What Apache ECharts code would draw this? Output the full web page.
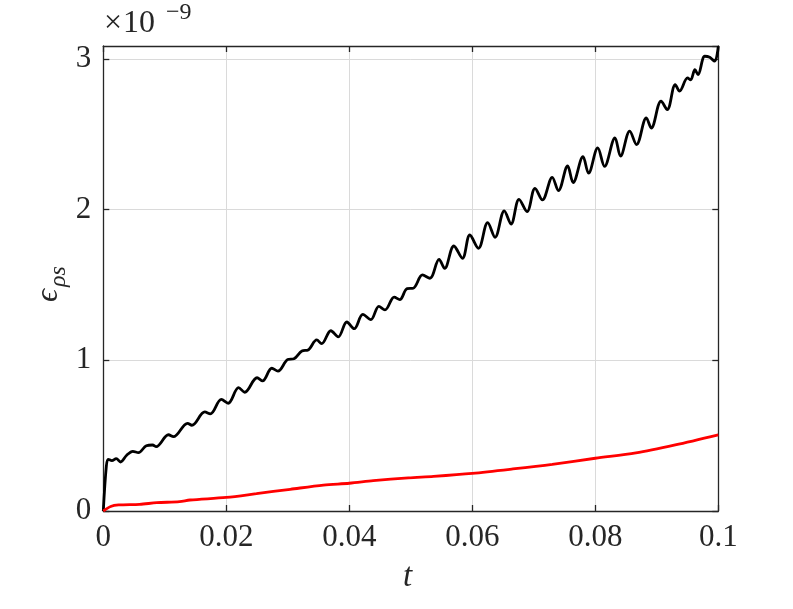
<!DOCTYPE html>
<html>
<head>
<meta charset="utf-8">
<script src="https://cdn.jsdelivr.net/npm/echarts@6/dist/echarts.min.js"></script>
<style>html,body{margin:0;padding:0;background:#fff}#c{width:793px;height:609px}</style>
</head>
<body>
<div id="c"></div>
<script>
// ---- data (values in units of 1e-9) ----
const tBlack = [0,0.0005,0.0008,0.0014,0.0021,0.0028,0.0038,0.0048,0.0057,0.0070,0.0080,0.0086,0.0106,0.0114,0.0137,0.0144,0.0165,0.0174,0.0192,0.0203,0.0220,0.0230,0.0250,0.0259,0.0274,0.0284,0.0300,0.0310,0.0323,0.0333,0.0347,0.0355,0.0370,0.0382,0.0396,0.0408,0.0422,0.0435,0.0448,0.0458,0.0473,0.0482,0.0494,0.0504,0.0519,0.0531,0.0546,0.0555,0.0570,0.0584,0.0596,0.0610,0.0625,0.0637,0.0652,0.0663,0.0676,0.0689,0.0702,0.0714,0.0730,0.0740,0.0755,0.0764,0.0780,0.0789,0.0804,0.0815,0.0832,0.0841,0.0856,0.0867,0.0883,0.0891,0.0907,0.0917,0.0930,0.0937,0.0950,0.0955,0.0962,0.0967,0.0978,0.0986,0.0994,0.1000];
const vBlack = [0,0.30,0.343,0.334,0.347,0.325,0.37,0.396,0.387,0.433,0.438,0.427,0.506,0.493,0.582,0.569,0.657,0.644,0.740,0.715,0.818,0.788,0.884,0.863,0.947,0.928,1.005,1.010,1.062,1.068,1.135,1.110,1.196,1.155,1.254,1.210,1.304,1.270,1.358,1.334,1.419,1.402,1.475,1.478,1.566,1.544,1.670,1.610,1.758,1.677,1.831,1.743,1.913,1.816,1.991,1.904,2.068,1.986,2.141,2.064,2.214,2.125,2.289,2.179,2.351,2.241,2.409,2.287,2.475,2.354,2.520,2.431,2.608,2.541,2.719,2.663,2.829,2.785,2.873,2.860,2.928,2.895,3.017,3.010,2.984,3.084];
const tRed = [0,0.0012,0.0025,0.0059,0.0087,0.0124,0.0141,0.0200,0.0249,0.0304,0.0358,0.0400,0.0439,0.0496,0.0537,0.0600,0.0666,0.0730,0.0800,0.0866,0.0930,0.1000];
const vRed = [0,0.030,0.040,0.044,0.055,0.062,0.073,0.090,0.115,0.144,0.172,0.184,0.201,0.220,0.230,0.250,0.279,0.310,0.350,0.385,0.438,0.505];
const xTicks = [0,0.02,0.04,0.06,0.08,0.1];
const yTicks = [0,1,2,3];

const FONT = 'Liberation Serif';
const TXT = '#262626';
const chart = echarts.init(document.getElementById('c'), null, {renderer:'canvas'});
const grid = {left:103.3, right:74.7, top:46, bottom:98};
const axisLine = {show:true, onZero:false, lineStyle:{color:TXT, width:1.3}};
const tick = {show:true, inside:true, length:6, lineStyle:{color:TXT, width:1.3}};
const split = {show:true, lineStyle:{color:'#dadada', width:1}};
chart.setOption({
  animation:false,
  backgroundColor:'#fff',
  grid:grid,
  xAxis:[
    {type:'value', min:0, max:0.1, interval:0.02, axisLine:axisLine, axisTick:tick, splitLine:split,
     axisLabel:{color:TXT, fontFamily:FONT, fontSize:31, margin:11,
       formatter:v=>{const k=xTicks.find(t=>Math.abs(t-v)<1e-9); return k===undefined?'':String(k);}}},
    {type:'value', position:'top', min:0, max:0.1, interval:0.02, axisLine:axisLine, axisTick:tick, splitLine:{show:false}, axisLabel:{show:false}}
  ],
  yAxis:[
    {type:'value', min:0, max:3.085, interval:1, axisLine:axisLine, axisTick:tick, splitLine:split,
     axisLabel:{color:TXT, fontFamily:FONT, fontSize:31, margin:12, showMaxLabel:false,
       formatter:v=>yTicks.includes(v)?String(v):''}},
    {type:'value', position:'right', min:0, max:3.085, interval:1, axisLine:axisLine, axisTick:tick, splitLine:{show:false}, axisLabel:{show:false}}
  ],
  series:[
    {type:'line', data:tBlack.map((t,i)=>[t,vBlack[i]]), showSymbol:false, smooth:0.35,
     lineStyle:{color:'#000', width:2.8}, clip:true, z:3},
    {type:'line', data:tRed.map((t,i)=>[t,vRed[i]]), showSymbol:false, smooth:0.3,
     lineStyle:{color:'#ff0000', width:2.8}, clip:true, z:3}
  ],
  graphic:[
    {type:'text', left:104, top:8, style:{text:'×', fill:TXT, font:'32px "'+FONT+'"'}},
    {type:'text', left:123, top:8, style:{text:'10', fill:TXT, font:'32px "'+FONT+'"'}},
    {type:'text', left:166, top:1, style:{text:'−9', fill:TXT, font:'24px "'+FONT+'"'}},
    {type:'text', left:403, top:561, style:{text:'t', fill:TXT, font:'italic 33px "'+FONT+'"'}},
    {type:'group', x:65, y:302, rotation:Math.PI/2, children:[
      {type:'text', x:0, y:0, style:{text:'ϵ', fill:TXT, font:'italic 32px "'+FONT+'"', textVerticalAlign:'bottom'}},
      {type:'text', x:15, y:6, style:{text:'ρs', fill:TXT, font:'italic 24px "'+FONT+'"', textVerticalAlign:'bottom'}}
    ]}
  ]
});
</script>
</body>
</html>
